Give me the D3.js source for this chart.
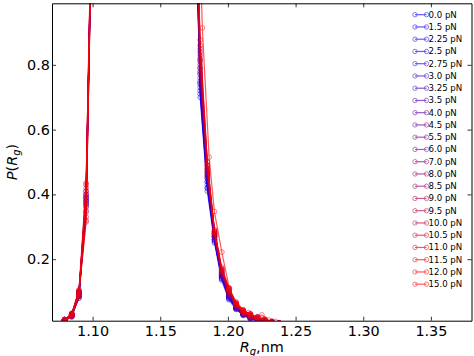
<!DOCTYPE html>
<html>
<head>
<meta charset="utf-8">
<script src="https://cdn.jsdelivr.net/npm/d3@7"></script>
<style>
	body { margin: 0; background: #fff; }
	svg { display: block; }
	text { font-family: "DejaVu Sans", sans-serif; }
</style>
</head>
<body>
<div id="chart"></div>
<script>

// force labels, one per curve (blue -> red)
var forces = ['0.0 pN', '1.5 pN', '2.25 pN', '2.5 pN', '2.75 pN', '3.0 pN', '3.25 pN', '3.5 pN',
	'4.0 pN', '4.5 pN', '5.5 pN', '6.0 pN', '7.0 pN', '8.0 pN', '8.5 pN', '9.0 pN', '9.5 pN',
	'10.0 pN', '10.5 pN', '11.0 pN', '11.5 pN', '12.0 pN', '15.0 pN']

// Rg bins (nm)
var rgBins = [1.0740, 1.0793, 1.0846, 1.0899, 1.0952, 1.1005, 1.1374, 1.1742, 1.1795, 1.1848,
	1.1901, 1.1954, 1.2007, 1.2060, 1.2113, 1.2166, 1.2219, 1.2272, 1.2325, 1.2378, 1.2431]
// the 15 pN curve sits on slightly shifted bins
var rgBins15 = [1.0740, 1.0793, 1.0846, 1.0899, 1.0952, 1.1005, 1.1374, 1.1758, 1.1811, 1.1861,
	1.1900, 1.1955, 1.2010, 1.2064, 1.2118, 1.2152, 1.2210, 1.2251, 1.2300, 1.2350, 1.2420]

var p00 = [0, 0.012, 0.025, 0.090, 0.380, 1.52, 3.0, 1.62, 0.700, 0.410, 0.250, 0.135, 0.075, 0.045, 0.028, 0.018, 0.010, 0.006, 0.003, 0.001, 0]
var p15 = [0, 0.010, 0.030, 0.095, 0.390, 1.50, 3.0, 1.60, 0.710, 0.420, 0.260, 0.140, 0.080, 0.050, 0.030, 0.020, 0.012, 0.008, 0.004, 0.002, 0]
var p225 = [0, 0.011, 0.022, 0.085, 0.370, 1.53, 3.0, 1.63, 0.720, 0.430, 0.255, 0.145, 0.085, 0.048, 0.026, 0.016, 0.022, 0.010, 0.005, 0.002, 0]
var p25 = [0, 0.013, 0.028, 0.100, 0.400, 1.49, 3.0, 1.61, 0.730, 0.420, 0.270, 0.150, 0.078, 0.052, 0.032, 0.014, 0.009, 0.012, 0.004, 0.001, 0]
var p275 = [0, 0.009, 0.027, 0.080, 0.360, 1.51, 3.0, 1.60, 0.740, 0.440, 0.260, 0.140, 0.090, 0.046, 0.030, 0.024, 0.012, 0.006, 0.003, 0.001, 0]
var p30 = [0, 0.012, 0.024, 0.092, 0.385, 1.50, 3.0, 1.62, 0.745, 0.450, 0.265, 0.148, 0.082, 0.050, 0.035, 0.020, 0.010, 0.005, 0.008, 0.002, 0]
var p325 = [0, 0.010, 0.030, 0.088, 0.375, 1.52, 3.0, 1.61, 0.750, 0.440, 0.270, 0.152, 0.088, 0.055, 0.030, 0.018, 0.014, 0.007, 0.003, 0.001, 0]
var p35 = [0, 0.014, 0.026, 0.098, 0.395, 1.50, 3.0, 1.60, 0.760, 0.450, 0.275, 0.145, 0.092, 0.050, 0.028, 0.022, 0.010, 0.009, 0.004, 0.002, 0]
var p40 = [0, 0.011, 0.031, 0.090, 0.370, 1.51, 3.0, 1.63, 0.770, 0.460, 0.260, 0.150, 0.085, 0.058, 0.034, 0.016, 0.012, 0.006, 0.005, 0.001, 0]
var p45 = [0, 0.012, 0.028, 0.094, 0.380, 1.50, 3.0, 1.62, 0.775, 0.455, 0.270, 0.155, 0.090, 0.052, 0.030, 0.020, 0.015, 0.008, 0.003, 0.002, 0]
var p55 = [0, 0.010, 0.025, 0.086, 0.390, 1.52, 3.0, 1.61, 0.780, 0.460, 0.275, 0.150, 0.095, 0.054, 0.036, 0.025, 0.011, 0.010, 0.004, 0.001, 0]
var p60 = [0, 0.013, 0.029, 0.100, 0.365, 1.49, 3.0, 1.60, 0.790, 0.470, 0.280, 0.158, 0.100, 0.060, 0.032, 0.018, 0.013, 0.007, 0.006, 0.002, 0]
var p70 = [0, 0.011, 0.027, 0.092, 0.400, 1.50, 3.0, 1.62, 0.790, 0.465, 0.270, 0.160, 0.092, 0.056, 0.038, 0.030, 0.016, 0.009, 0.004, 0.003, 0]
var p80 = [0, 0.012, 0.032, 0.096, 0.350, 1.51, 3.0, 1.61, 0.800, 0.470, 0.275, 0.155, 0.098, 0.058, 0.034, 0.022, 0.012, 0.014, 0.005, 0.002, 0]
var p85 = [0, 0.010, 0.024, 0.080, 0.410, 1.52, 3.0, 1.63, 0.810, 0.480, 0.280, 0.160, 0.105, 0.062, 0.036, 0.026, 0.018, 0.008, 0.004, 0.001, 0]
var p90 = [0, 0.014, 0.030, 0.104, 0.330, 1.48, 3.0, 1.60, 0.815, 0.475, 0.285, 0.165, 0.100, 0.058, 0.040, 0.020, 0.015, 0.010, 0.006, 0.002, 0]
var p95 = [0, 0.012, 0.026, 0.090, 0.420, 1.53, 3.0, 1.62, 0.820, 0.480, 0.280, 0.162, 0.108, 0.060, 0.034, 0.028, 0.012, 0.009, 0.005, 0.003, 0]
var p100 = [0, 0.011, 0.033, 0.098, 0.345, 1.50, 3.0, 1.61, 0.830, 0.490, 0.285, 0.170, 0.100, 0.064, 0.042, 0.024, 0.020, 0.012, 0.006, 0.002, 0]
var p105 = [0, 0.013, 0.028, 0.085, 0.430, 1.51, 3.0, 1.62, 0.840, 0.485, 0.290, 0.165, 0.110, 0.060, 0.038, 0.030, 0.014, 0.011, 0.007, 0.003, 0]
var p110 = [0, 0.010, 0.022, 0.100, 0.320, 1.49, 3.0, 1.60, 0.850, 0.500, 0.280, 0.170, 0.105, 0.066, 0.044, 0.026, 0.018, 0.013, 0.005, 0.002, 0]
var p115 = [0, 0.012, 0.030, 0.092, 0.410, 1.52, 3.0, 1.63, 0.860, 0.490, 0.290, 0.175, 0.110, 0.062, 0.040, 0.032, 0.020, 0.010, 0.006, 0.003, 0]
var p120 = [0, 0.011, 0.026, 0.095, 0.315, 1.50, 3.0, 1.61, 0.877, 0.500, 0.285, 0.168, 0.112, 0.068, 0.042, 0.028, 0.022, 0.015, 0.008, 0.004, 0]
var p150 = [0, 0.012, 0.030, 0.105, 0.435, 1.55, 3.0, 1.65, 0.914, 0.515, 0.347, 0.222, 0.110, 0.060, 0.035, 0.035, 0.020, 0.028, 0.012, 0.008, 0]

var curves = [p00, p15, p225, p25, p275, p30, p325, p35, p40, p45, p55, p60, p70,
	p80, p85, p90, p95, p100, p105, p110, p115, p120, p150]

var xTicks = [1.10, 1.15, 1.20, 1.25, 1.30, 1.35]
var yTicks = [0.2, 0.4, 0.6, 0.8]

var width = 474,
	height = 356
var plotLeft = 52, plotRight = 471.5, plotTop = 3.3, plotBottom = 320.7

var svg = d3.select('#chart').append('svg')
	.attr('width', width)
	.attr('height', height)

var x = d3.scaleLinear()
	.domain([1.07, 1.38])
	.range([plotLeft, plotRight])

var y = d3.scaleLinear()
	.domain([0.01, 0.99])
	.range([plotBottom, plotTop])

var color = d3.scaleLinear()
	.domain([0, curves.length - 1])
	.range(['#0000ff', '#ff0000'])

svg.append('clipPath').attr('id', 'plotclip')
	.append('rect')
	.attr('x', plotLeft).attr('y', plotTop)
	.attr('width', plotRight - plotLeft).attr('height', plotBottom - plotTop)

var data = curves.map(function (vals, i) {
	var bins = i == curves.length - 1 ? rgBins15 : rgBins
	return vals.map(function (v, j) {
		return { rg: bins[j], p: v }
	})
})

var line = d3.line()
	.x(function (d) { return x(d.rg) })
	.y(function (d) { return y(d.p) })

var plot = svg.append('g').attr('clip-path', 'url(#plotclip)')

var series = plot.selectAll('.series')
	.data(data)
	.enter().append('g')
	.attr('class', 'series')
	.attr('opacity', 0.65)

series.append('path')
	.attr('d', line)
	.attr('fill', 'none')
	.attr('stroke-width', 1.2)
	.attr('stroke', function (d, i) { return color(i) })

series.each(function (d, i) {
	d3.select(this).selectAll('circle')
		.data(d)
		.enter().append('circle')
		.attr('cx', function (p) { return x(p.rg) })
		.attr('cy', function (p) { return y(p.p) })
		.attr('r', 2.4)
		.attr('fill', 'none')
		.attr('stroke-width', 0.8)
		.attr('stroke', color(i))
})

// axes, ticks pointing inward
function styleAxis(g) {
	g.select('.domain').attr('stroke', '#000').attr('stroke-width', 1)
	g.selectAll('.tick line').attr('stroke', '#000').attr('stroke-width', 0.8)
	g.selectAll('.tick text').attr('fill', '#000')
		.attr('font-family', '"DejaVu Sans", sans-serif')
		.attr('font-size', 14.4)
}

svg.append('g')
	.attr('transform', 'translate(0,' + plotBottom + ')')
	.call(d3.axisBottom(x).tickValues(xTicks).tickFormat(d3.format('.2f'))
		.tickSizeInner(-4).tickSizeOuter(0).tickPadding(5))
	.call(styleAxis)

svg.append('g')
	.attr('transform', 'translate(0,' + plotTop + ')')
	.call(d3.axisTop(x).tickValues(xTicks).tickFormat('')
		.tickSizeInner(-4).tickSizeOuter(0))
	.call(styleAxis)

svg.append('g')
	.attr('transform', 'translate(' + plotLeft + ',0)')
	.call(d3.axisLeft(y).tickValues(yTicks).tickFormat(d3.format('.1f'))
		.tickSizeInner(-4).tickSizeOuter(0).tickPadding(2))
	.call(styleAxis)

svg.append('g')
	.attr('transform', 'translate(' + plotRight + ',0)')
	.call(d3.axisRight(y).tickValues(yTicks).tickFormat('')
		.tickSizeInner(-4).tickSizeOuter(0))
	.call(styleAxis)

// axis titles
var xl = svg.append('text')
	.attr('x', (plotLeft + plotRight) / 2)
	.attr('y', 351.5)
	.attr('text-anchor', 'middle')
	.attr('font-size', 14.4)
xl.append('tspan').attr('font-style', 'italic').text('R')
xl.append('tspan').attr('font-style', 'italic').attr('font-size', 10).attr('dy', 3).text('g')
xl.append('tspan').attr('dy', -3).text(',nm')

var yl = svg.append('text')
	.attr('transform', 'translate(17,' + ((plotTop + plotBottom) / 2) + ') rotate(-90)')
	.attr('text-anchor', 'middle')
	.attr('font-size', 14.4)
yl.append('tspan').attr('font-style', 'italic').text('P')
yl.append('tspan').text('(')
yl.append('tspan').attr('font-style', 'italic').text('R')
yl.append('tspan').attr('font-style', 'italic').attr('font-size', 10).attr('dy', 3).text('g')
yl.append('tspan').attr('dy', -3).text(')')

// legend
var legend = svg.append('g')
	.attr('transform', 'translate(413,14.7)')

var entry = legend.selectAll('.entry')
	.data(forces)
	.enter().append('g')
	.attr('class', 'entry')
	.attr('transform', function (d, i) { return 'translate(0,' + (i * 12.25) + ')' })

entry.append('g')
	.attr('opacity', 0.65)
	.each(function (d, i) {
		var g = d3.select(this)
		g.append('line')
			.attr('x1', 2).attr('x2', 13.5)
			.attr('stroke', color(i)).attr('stroke-width', 1.2)
		g.selectAll('circle')
			.data([2, 13.5])
			.enter().append('circle')
			.attr('cx', function (c) { return c })
			.attr('r', 2.2)
			.attr('fill', 'none')
			.attr('stroke', color(i))
			.attr('stroke-width', 0.8)
	})

entry.append('text')
	.attr('x', 15.5)
	.attr('dy', '0.35em')
	.attr('font-size', 8.6)
	.attr('fill', '#000')
	.text(function (d) { return d })

</script>
</body>
</html>
